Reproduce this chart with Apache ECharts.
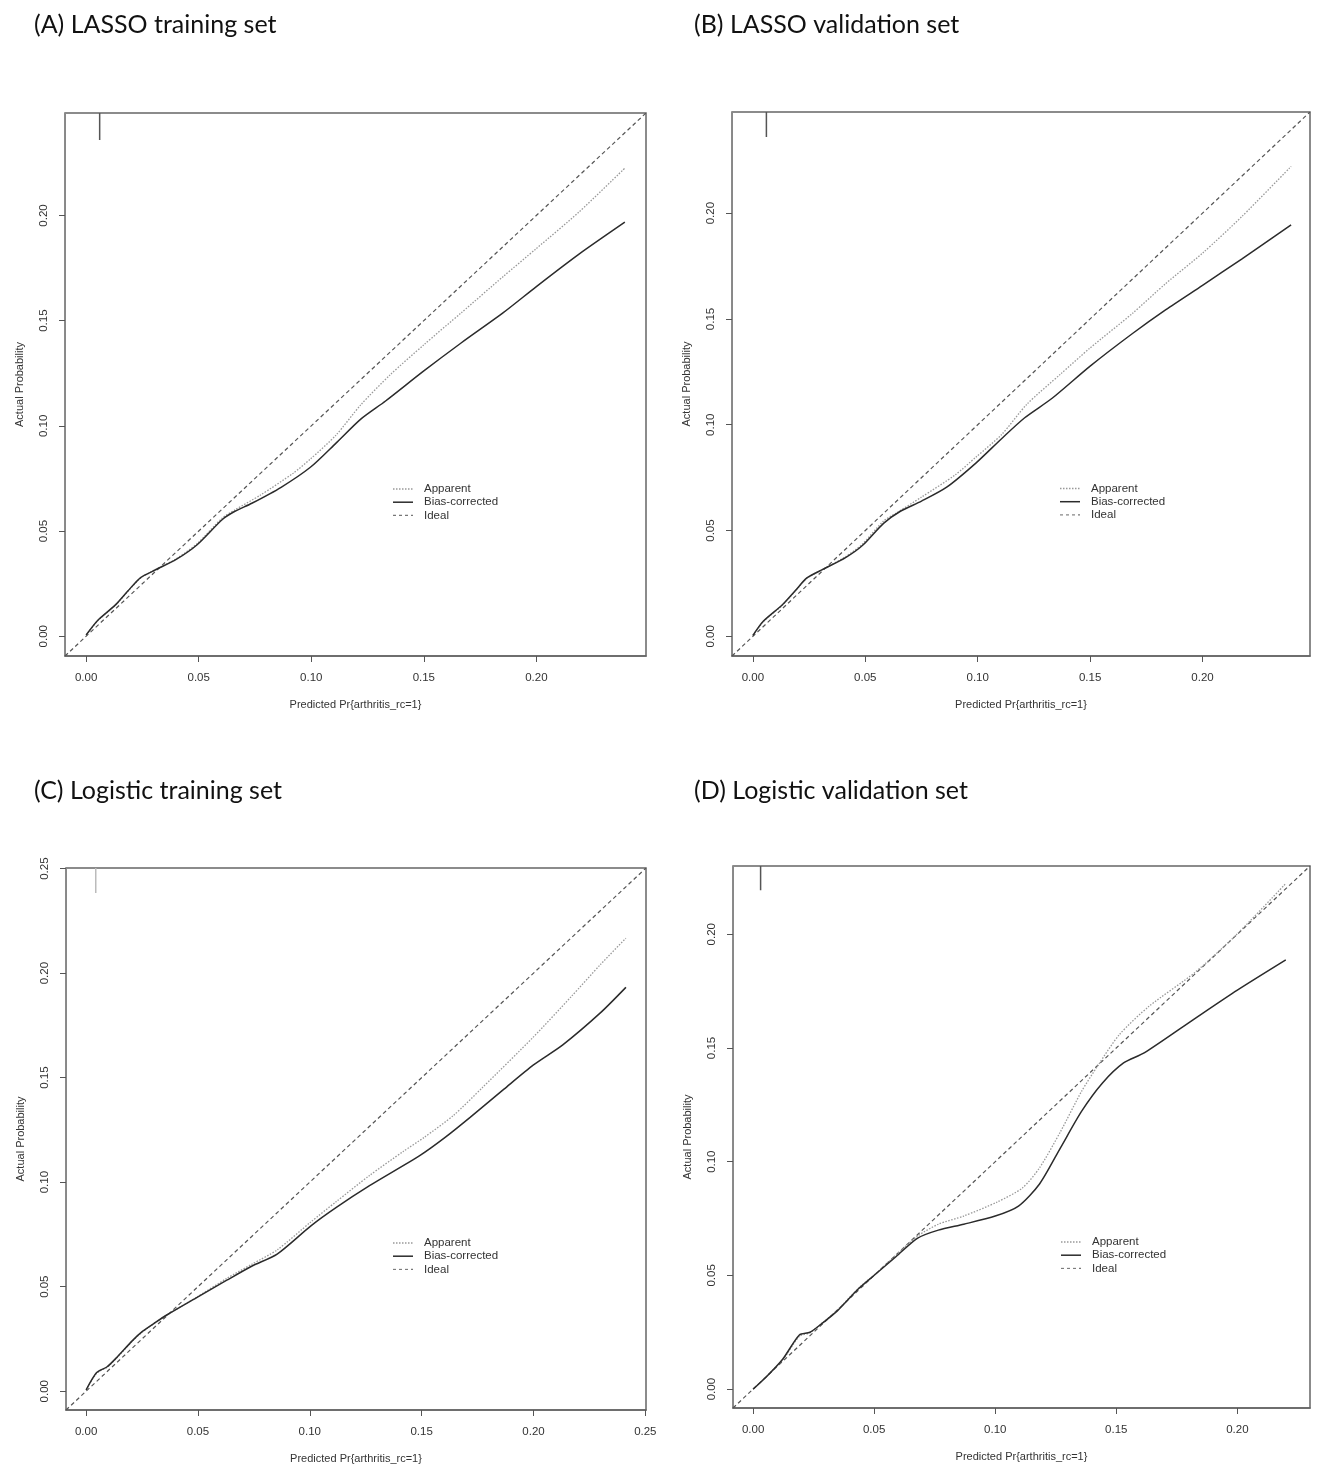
<!DOCTYPE html>
<html>
<head>
<meta charset="utf-8">
<title>Calibration curves</title>
<script src="https://cdn.jsdelivr.net/npm/echarts@6/dist/echarts.min.js"></script>
<style>
  html, body { margin: 0; padding: 0; background: #fff; }
  #main { width: 1325px; height: 1471px; }
</style>
</head>
<body>
<div id="main"></div>
<script>
// panel titles
var panelTitles = ['(A) LASSO training set', '(B) LASSO validation set',
                   '(C) Logistic training set', '(D) Logistic validation set'];
var legendNames = ['Apparent', 'Bias-corrected', 'Ideal'];

// axis extents [min, max] (same on x and y)
var axisRanges = [[-0.0094, 0.2487], [-0.0093, 0.2478], [-0.0090, 0.2503], [-0.0083, 0.2300]];

// tick labels
var ticksShort = [0, 0.05, 0.10, 0.15, 0.20];
var ticksLong = [0, 0.05, 0.10, 0.15, 0.20, 0.25];
var panelTicks = [ticksShort, ticksShort, ticksLong, ticksShort];

// spike of predicted risk at the top: [x, lower y]
var riskSpikes = [[0.0060, 0.2359], [0.0060, 0.2360], [0.0043, 0.2383], [0.0031, 0.2193]];

// (A) LASSO training set  [predicted, actual]
var lassoTrainBias = [[0, 0.0006], [0.005, 0.0074], [0.013, 0.0149], [0.0186, 0.0216], [0.0242, 0.0279],
  [0.0311, 0.0317], [0.040, 0.0365], [0.0493, 0.0435], [0.0605, 0.0555], [0.0661, 0.0594],
  [0.0736, 0.0632], [0.0866, 0.0708], [0.0996, 0.0803], [0.111, 0.0918], [0.122, 0.1032],
  [0.133, 0.1118], [0.150, 0.1261], [0.1667, 0.1395], [0.1853, 0.1538], [0.200, 0.1662],
  [0.2188, 0.1815], [0.2393, 0.1968]];
var lassoTrainApparent = [[0, 0.0006], [0.005, 0.0072], [0.013, 0.0148], [0.0186, 0.0214], [0.0242, 0.0277],
  [0.0311, 0.0318], [0.040, 0.0368], [0.0493, 0.0440], [0.0605, 0.0562], [0.066, 0.0600],
  [0.0773, 0.0670], [0.092, 0.0775], [0.0996, 0.0842], [0.111, 0.0956], [0.122, 0.1100],
  [0.135, 0.1242], [0.150, 0.1385], [0.1667, 0.1538], [0.1853, 0.1710], [0.200, 0.1843],
  [0.2188, 0.2015], [0.2393, 0.2225]];

// (B) LASSO validation set
var lassoValidBias = [[0, 0.0004], [0.0047, 0.0072], [0.0131, 0.0149], [0.0187, 0.0214], [0.024, 0.0276],
  [0.0309, 0.0315], [0.0412, 0.0372], [0.0487, 0.0429], [0.0581, 0.0534], [0.0656, 0.0591],
  [0.075, 0.0639], [0.0862, 0.0705], [0.0993, 0.0820], [0.1106, 0.0934], [0.1209, 0.1033],
  [0.1331, 0.1125], [0.150, 0.1277], [0.1687, 0.1430], [0.1837, 0.1544], [0.200, 0.1659],
  [0.2174, 0.1783], [0.2394, 0.1945]];
var lassoValidApparent = [[0, 0.0004], [0.0047, 0.0070], [0.0131, 0.0147], [0.0187, 0.0212], [0.024, 0.0274],
  [0.0309, 0.0316], [0.0412, 0.0376], [0.0487, 0.0436], [0.0581, 0.0545], [0.0637, 0.0582],
  [0.075, 0.0658], [0.090, 0.0763], [0.0993, 0.0848], [0.1106, 0.0953], [0.1218, 0.1096],
  [0.1368, 0.1239], [0.150, 0.1363], [0.1687, 0.1525], [0.1837, 0.1668], [0.200, 0.1811],
  [0.2174, 0.1983], [0.2394, 0.2221]];

// (C) Logistic training set
var logitTrainBias = [[0, 0.0006], [0.0047, 0.0089], [0.0094, 0.0117], [0.0141, 0.0166], [0.0207, 0.0242],
  [0.0253, 0.0287], [0.031, 0.0329], [0.0366, 0.0368], [0.0498, 0.0450], [0.0629, 0.0531],
  [0.0742, 0.0599], [0.0854, 0.0656], [0.1005, 0.0791], [0.1117, 0.0878], [0.1267, 0.0983],
  [0.1493, 0.1128], [0.1605, 0.1214], [0.1718, 0.1311], [0.1868, 0.1445], [0.200, 0.1561],
  [0.2131, 0.1657], [0.230, 0.1811], [0.2413, 0.1932]];
var logitTrainApparent = [[0, 0.0006], [0.0047, 0.0086], [0.0094, 0.0115], [0.0141, 0.0164], [0.0207, 0.0240],
  [0.0253, 0.0285], [0.031, 0.0328], [0.0366, 0.0368], [0.0498, 0.0452], [0.0629, 0.0540],
  [0.0742, 0.0608], [0.0854, 0.0676], [0.1005, 0.0810], [0.1117, 0.0906], [0.1267, 0.1032],
  [0.1418, 0.1147], [0.1511, 0.1214], [0.1643, 0.1320], [0.1774, 0.1455], [0.200, 0.1695],
  [0.2169, 0.1888], [0.230, 0.2042], [0.2413, 0.2167]];

// (D) Logistic validation set
var logitValidBias = [[0, 0], [0.0052, 0.0051], [0.0122, 0.0131], [0.0191, 0.0238], [0.0235, 0.0250],
  [0.0287, 0.0291], [0.0348, 0.0344], [0.0435, 0.0441], [0.0504, 0.0504], [0.0591, 0.0583],
  [0.0678, 0.0663], [0.0765, 0.0699], [0.087, 0.0725], [0.100, 0.0761], [0.1096, 0.0805],
  [0.1183, 0.0902], [0.127, 0.1062], [0.1357, 0.1222], [0.1443, 0.1346], [0.153, 0.1434],
  [0.1617, 0.1479], [0.1826, 0.1630], [0.200, 0.1754], [0.220, 0.1887]];
var logitValidApparent = [[0, 0], [0.0052, 0.0053], [0.0122, 0.0128], [0.0191, 0.0232], [0.0235, 0.0248],
  [0.0287, 0.0292], [0.0348, 0.0348], [0.0435, 0.0443], [0.0504, 0.0506], [0.0591, 0.0590],
  [0.0678, 0.0672], [0.0765, 0.0725], [0.087, 0.0761], [0.1009, 0.0823], [0.1113, 0.0885],
  [0.1183, 0.0973], [0.127, 0.1133], [0.1357, 0.1310], [0.1426, 0.1426], [0.1513, 0.1559],
  [0.1635, 0.1683], [0.1826, 0.1833], [0.200, 0.2002], [0.220, 0.2223]];

var biasSets = [lassoTrainBias, lassoValidBias, logitTrainBias, logitValidBias];
var apparentSets = [lassoTrainApparent, lassoValidApparent, logitTrainApparent, logitValidApparent];

// plot boxes in px: left, top, width, height
var boxes = [[65, 113, 581, 543], [732, 112, 578, 544], [66, 868, 580, 542], [733, 866, 577, 542]];
var titlePos = [[29, 7], [689, 7], [29, 773], [689, 773]];
// legend: left of line sample, centre of first row
var legendPos = [[393, 489], [1060, 488.5], [393, 1243], [1061, 1242]];
var spikeColors = ['#555', '#555', '#bbb', '#555'];

var fontR = '"Liberation Sans", Arial, sans-serif';
var lineStyles = {
    'Apparent': {stroke: '#999', lineWidth: 1.3, lineDash: [1.5, 1.5]},
    'Bias-corrected': {stroke: '#2b2b2b', lineWidth: 1.5, lineDash: null},
    'Ideal': {stroke: '#777', lineWidth: 1.1, lineDash: [3, 3]}
};

var option = {
    backgroundColor: '#fff',
    animation: false,
    title: [],
    grid: [],
    xAxis: [],
    yAxis: [],
    series: [],
    graphic: []
};

function tickFmt(v) { return v.toFixed(2); }

for (var i = 0; i < 4; i++) {
    var r = axisRanges[i];
    var b = boxes[i];
    option.title.push({
        text: panelTitles[i],
        left: titlePos[i][0], top: titlePos[i][1],
        textStyle: {fontFamily: 'Lato, "Open Sans", sans-serif', fontSize: 25, fontWeight: 'normal', color: '#111'}
    });
    // legend drawn by hand, like R's legend()
    for (var k = 0; k < legendNames.length; k++) {
        var lx = legendPos[i][0], ly = legendPos[i][1] + k * 13.2;
        var st = lineStyles[legendNames[k]];
        option.graphic.push({
            type: 'line', silent: true,
            shape: {x1: lx, y1: ly, x2: lx + 20, y2: ly},
            style: {stroke: st.stroke, lineWidth: st.lineWidth, lineDash: st.lineDash}
        });
        option.graphic.push({
            type: 'text', silent: true, x: lx + 31, y: ly,
            style: {text: legendNames[k], fill: '#333', font: '11.5px ' + fontR, verticalAlign: 'middle'}
        });
    }
    option.grid.push({
        left: b[0], top: b[1], width: b[2], height: b[3],
        show: true, borderColor: '#666', borderWidth: 1.5, backgroundColor: 'transparent'
    });
    option.xAxis.push({
        type: 'value', gridIndex: i, min: r[0], max: r[1],
        name: 'Predicted Pr{arthritis_rc=1}', nameLocation: 'middle', nameGap: 43,
        nameTextStyle: {fontFamily: fontR, fontSize: 11, color: '#333'},
        axisLine: {show: true, onZero: false, lineStyle: {color: '#666', width: 1.5}},
        axisTick: {show: true, customValues: panelTicks[i], length: 6, lineStyle: {color: '#555'}},
        axisLabel: {customValues: panelTicks[i], margin: 16, fontFamily: fontR, fontSize: 11.5, color: '#333',
            formatter: tickFmt},
        splitLine: {show: false}
    });
    option.yAxis.push({
        type: 'value', gridIndex: i, min: r[0], max: r[1],
        name: 'Actual Probability', nameLocation: 'middle', nameGap: 40,
        nameTextStyle: {fontFamily: fontR, fontSize: 11, color: '#333'},
        axisLine: {show: true, onZero: false, lineStyle: {color: '#888', width: 1}},
        axisTick: {show: true, customValues: panelTicks[i], length: 6, lineStyle: {color: '#555'}},
        axisLabel: {customValues: panelTicks[i], rotate: 90, margin: 15, fontFamily: fontR, fontSize: 11.5, color: '#333',
            formatter: tickFmt},
        splitLine: {show: false}
    });
    option.series.push({
        name: 'Apparent', type: 'line', xAxisIndex: i, yAxisIndex: i,
        data: apparentSets[i], showSymbol: false, symbol: 'none', smooth: 0.25, z: 3,
        lineStyle: {color: '#999', width: 1.3, type: [1.5, 1.5]}
    });
    option.series.push({
        name: 'Bias-corrected', type: 'line', xAxisIndex: i, yAxisIndex: i,
        data: biasSets[i], showSymbol: false, symbol: 'none', smooth: 0.25, z: 4,
        lineStyle: {color: '#2b2b2b', width: 1.5, type: 'solid'}
    });
    option.series.push({
        name: 'Ideal', type: 'line', xAxisIndex: i, yAxisIndex: i,
        data: [[r[0], r[0]], [r[1], r[1]]], showSymbol: false, symbol: 'none', z: 2,
        lineStyle: {color: '#555', width: 1.2, type: [4, 3]}
    });
    option.series.push({
        name: 'spike', type: 'line', xAxisIndex: i, yAxisIndex: i,
        data: [[riskSpikes[i][0], r[1]], [riskSpikes[i][0], riskSpikes[i][1]]],
        showSymbol: false, symbol: 'none', silent: true, z: 2,
        lineStyle: {color: spikeColors[i], width: 1.5}
    });
}

var myChart = echarts.init(document.getElementById('main'), null, {renderer: 'canvas'});
myChart.setOption(option);
</script>
</body>
</html>
